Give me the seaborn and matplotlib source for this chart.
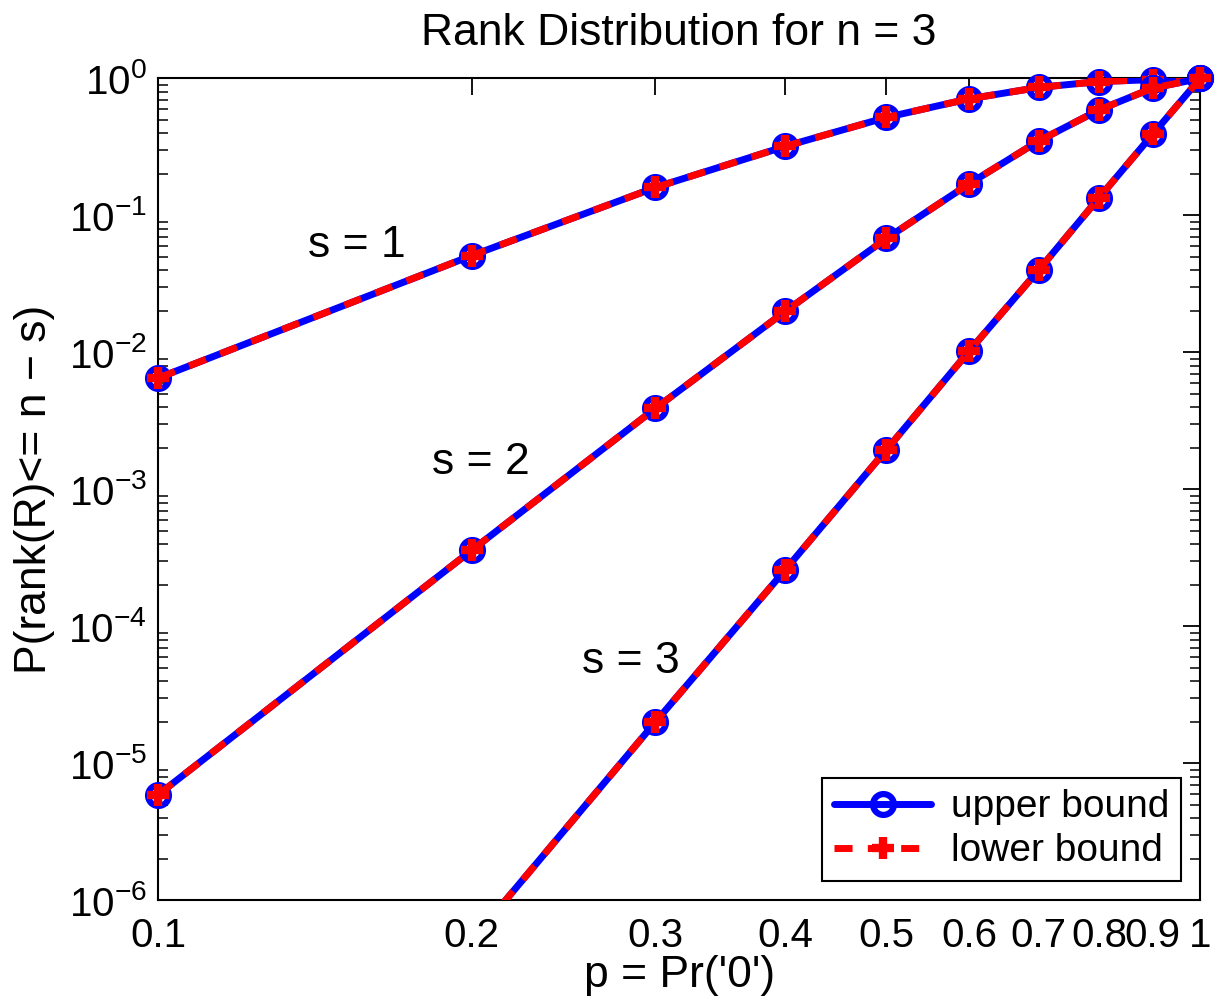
import matplotlib
matplotlib.use("Agg")
import matplotlib.pyplot as plt
import seaborn as sns
import numpy as np
from matplotlib.lines import Line2D
from matplotlib.ticker import LogLocator, NullLocator, FixedLocator

sns.set_style("white")
plt.rcParams['font.family'] = ['Liberation Sans', 'DejaVu Sans']
plt.rcParams['mathtext.fontset'] = 'custom'
plt.rcParams['mathtext.rm'] = 'Liberation Sans'
plt.rcParams['mathtext.it'] = 'Liberation Sans:italic'
plt.rcParams['text.color'] = 'black'
plt.rcParams['axes.labelcolor'] = 'black'
plt.rcParams['xtick.color'] = 'black'
plt.rcParams['ytick.color'] = 'black'

p = [0.1, 0.2, 0.3, 0.4, 0.5, 0.6, 0.7, 0.8, 0.9, 1.0]
s1_upper = [0.0065, 0.051, 0.16, 0.32, 0.52, 0.71, 0.86, 0.95, 0.98, 1.0]
s2_upper = [5.9e-6, 3.6e-4, 3.9e-3, 0.020, 0.068, 0.17, 0.35, 0.59, 0.85, 1.0]
s3_upper = [1.0e-9, 5.1e-7, 2.0e-5, 2.6e-4, 1.95e-3, 0.0102, 0.040, 0.135, 0.39, 1.0]
s1_lower = [0.0065, 0.051, 0.16, 0.32, 0.52, 0.71, 0.86, 0.95, 0.98, 1.0]
s2_lower = [5.9e-6, 3.6e-4, 3.9e-3, 0.020, 0.068, 0.17, 0.35, 0.59, 0.85, 1.0]
s3_lower = [1.0e-9, 5.1e-7, 2.0e-5, 2.6e-4, 1.95e-3, 0.0102, 0.040, 0.135, 0.39, 1.0]
xtick_labels = ["0.1", "0.2", "0.3", "0.4", "0.5", "0.6", "0.7", "0.8", "0.9", "1"]
series_labels = ["s = 1", "s = 2", "s = 3"]

YMIN, YMAX = 1e-6, 1.0

fig = plt.figure(figsize=(12.16, 10.06), dpi=100)
ax = fig.add_axes([0.130, 0.105, 0.857, 0.817])

FS = 32
TFS = 29
LFS = 28
lw = 5
DASH = (2.6, 2.2)
circ_kw = dict(linestyle="none", marker="o", markersize=15, markeredgewidth=4.5,
               markerfacecolor="none", markeredgecolor="#0000ff")
plus_kw = dict(linestyle="none", marker="+", markersize=16, markeredgewidth=6,
               color="#ff0000")

for i, (up, lo) in enumerate([(s1_upper, s1_lower), (s2_upper, s2_lower),
                              (s3_upper, s3_lower)]):
    z = 3 + i * 4
    sns.lineplot(x=p, y=up, ax=ax, legend=False, color="#0000ff",
                 linewidth=lw, zorder=z)
    pu = np.array(p)
    mu = np.array(up) >= YMIN
    ax.plot(pu[mu], np.array(up)[mu], clip_on=False, zorder=z + 1, **circ_kw)
    sns.lineplot(x=p, y=lo, ax=ax, legend=False, color="#ff0000",
                 linewidth=lw, dashes=DASH, zorder=z + 2)
    ml = np.array(lo) >= YMIN
    ax.plot(pu[ml], np.array(lo)[ml], clip_on=False, zorder=z + 3, **plus_kw)

ax.set_xscale("log")
ax.set_yscale("log")
ax.set_xlim(0.1, 1.0)
ax.set_ylim(YMIN, YMAX)

ax.xaxis.set_major_locator(FixedLocator(p))
ax.xaxis.set_minor_locator(NullLocator())
ax.set_xticklabels(xtick_labels)
ax.yaxis.set_major_locator(LogLocator(base=10, numticks=20))
ax.yaxis.set_minor_locator(LogLocator(base=10, subs=np.arange(2, 10), numticks=20))

ax.tick_params(which="both", direction="in", top=True, right=True, labelsize=TFS,
               color="black")
ax.tick_params(which="major", length=12, width=1.3, pad=8)
ax.tick_params(axis="x", which="major", pad=12)
ax.tick_params(which="minor", length=7, width=1.1)
ax.tick_params(axis="y", which="minor", left=True, right=True)

for sp in ax.spines.values():
    sp.set_visible(True)
    sp.set_color("black")
    sp.set_linewidth(1.5)
    sp.set_zorder(2)

ax.set_title("Rank Distribution for n = 3", fontsize=FS, pad=24)
ax.set_xlabel("p = Pr('0')", fontsize=FS, labelpad=0)
ax.set_ylabel("P(rank(R)<= n \u2212 s)", fontsize=FS, labelpad=10)

text_pos = [(0.155, 0.060), (0.204, 1.58e-3), (0.284, 5.5e-5)]
for (tx, ty), lab in zip(text_pos, series_labels):
    ax.text(tx, ty, lab, fontsize=FS, ha="center", va="center")

handles = [
    Line2D([], [], color="#0000ff", linewidth=lw, marker="o", markersize=15,
           markeredgewidth=4.5, markerfacecolor="none", markeredgecolor="#0000ff"),
    Line2D([], [], color="#ff0000", linewidth=lw, dashes=DASH, marker="+",
           markersize=16, markeredgewidth=6),
]
leg = ax.legend(handles, ["upper bound", "lower bound"], loc="lower right",
                fontsize=LFS, frameon=True, fancybox=False, framealpha=1,
                edgecolor="black", handlelength=2.5, borderpad=0.3,
                labelspacing=0.2, handletextpad=0.5, borderaxespad=0.5)
leg.get_frame().set_linewidth(1.5)
leg.set_zorder(50)

fig.savefig("out.png", dpi=100)
